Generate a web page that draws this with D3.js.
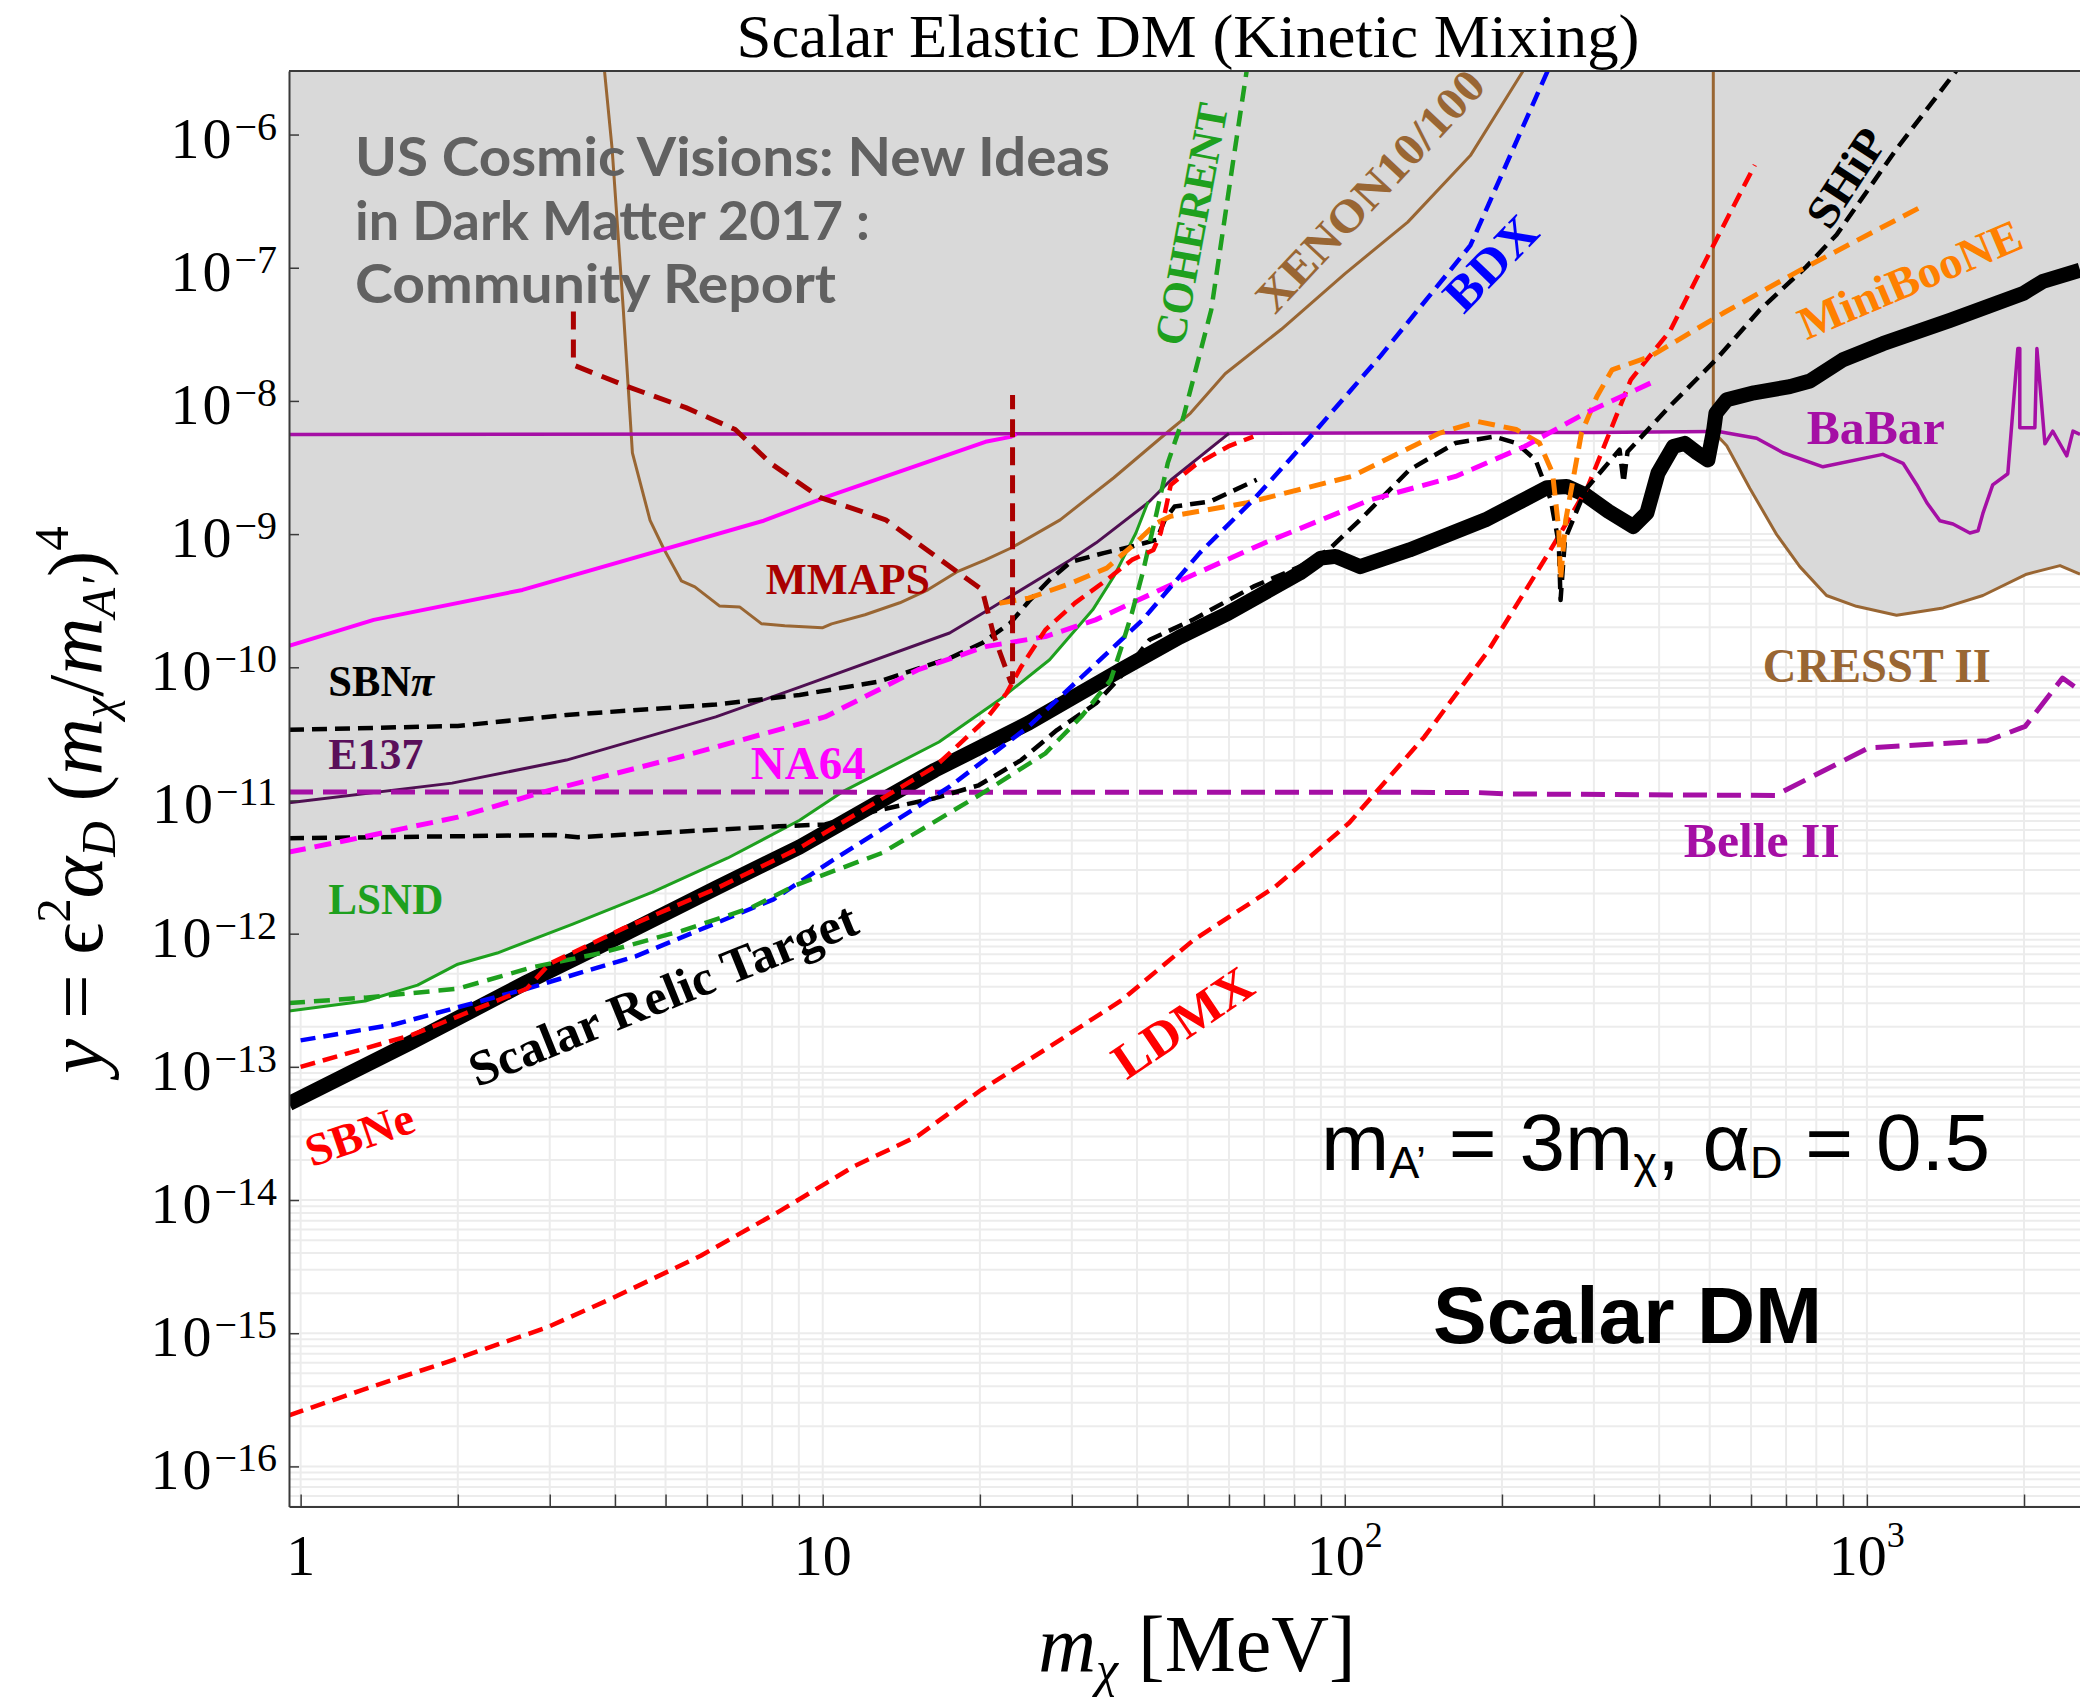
<!DOCTYPE html>
<html>
<head>
<meta charset="utf-8">
<script src="https://cdn.jsdelivr.net/npm/d3@7"></script>
<style>
body { margin: 0; background: #fff; }
svg { display: block; }
</style>
</head>
<body>
<script>
"use strict";

// Axis ticks

let xTicks = [1, 10, 100, 1000];
let xTickBase = ["1", "10", "10", "10"];
let xTickExp = ["", "", "2", "3"];
let yExponents = [-6, -7, -8, -9, -10, -11, -12, -13, -14, -15, -16];

// Curves, [m_chi in MeV, y]

let relicTarget = [[0.95,5.3e-14],[1.63,1.53e-13],[2.71,4.32e-13],[3.96,8.95e-13],[6.25,2.2e-12],[9.03,4.48e-12],[16.4,1.69e-11],[24.8,3.82e-11],[37.2,9.55e-11],[48.3,1.69e-10],[59.8,2.55e-10],[82,5.1e-10],[90,6.6e-10],[96,6.8e-10],[107,5.7e-10],[133,7.6e-10],[186,1.28e-9],[244,2.23e-9],[266,2.28e-9],[289,1.97e-9],[320,1.48e-9],[357,1.14e-9],[379,1.44e-9],[398,2.87e-9],[426,4.55e-9],[448,4.8e-9],[472,4.1e-9],[496,3.6e-9],[509,6.1e-9],[514,8.1e-9],[539,1.02e-8],[608,1.15e-8],[712,1.28e-8],[778,1.41e-8],[900,2.04e-8],[1073,2.69e-8],[1443,4.03e-8],[1991,6.4e-8],[2174,7.9e-8],[2560,9.6e-8]];

let lsnd = [[0.95,2.62e-13],[1.33,3.12e-13],[1.675,4.11e-13],[2.0,5.9e-13],[2.38,7.15e-13],[3.32,1.18e-12],[4.72,2.05e-12],[6.58,3.7e-12],[9.03,7.1e-12],[10.9,1.16e-11],[16.7,2.75e-11],[21.8,5.7e-11],[27.2,1.14e-10],[32.9,2.7e-10],[36.1,4.8e-10],[39.8,1.02e-9],[42,1.75e-9]];

let e137 = [[0.95,9.6e-12],[1.95,1.35e-11],[3.23,2.01e-11],[6.24,4.24e-11],[9.03,7.1e-11],[17.5,1.81e-10],[21.2,2.84e-10],[29.8,6.4e-10],[33.4,8.6e-10],[42,1.72e-9],[46.5,2.56e-9],[60,5.7e-9]];

let babar = [[0.95,5.6e-9],[60,5.7e-9],[300,5.8e-9],[508,5.9e-9],[520,5.9e-9],[615,5.24e-9],[691,4.08e-9],[824,3.2e-9],[1073,3.97e-9],[1173,3.4e-9],[1247,2.34e-9],[1303,1.72e-9],[1380,1.26e-9],[1462,1.19e-9],[1575,1.02e-9],[1633,1.06e-9],[1668,1.43e-9],[1742,2.34e-9],[1862,2.84e-9],[1946,2.47e-8],[1963,2.47e-8],[1963,6.3e-9],[2098,6.3e-9],[2117,2.47e-8],[2193,4.76e-9],[2270,5.93e-9],[2415,3.87e-9],[2482,5.93e-9],[2560,5.6e-9]];

let cresst = [[508,3e-6],[508,5.9e-9],[539,4.6e-9],[597,2.2e-9],[672,9.9e-10],[744,5.7e-10],[837,3.46e-10],[955,2.87e-10],[1140,2.46e-10],[1400,2.79e-10],[1668,3.46e-10],[2023,5.0e-10],[2344,5.8e-10],[2560,5.0e-10]];

let xenon = [[3.82,3e-6],[3.95,7.85e-7],[4.15,4.84e-8],[4.32,4.08e-9],[4.67,1.27e-9],[4.96,7.76e-10],[5.36,4.46e-10],[5.69,4.02e-10],[6.34,2.89e-10],[6.93,2.84e-10],[7.64,2.12e-10],[8.46,2.05e-10],[9.98,1.98e-10],[10.4,2.12e-10],[12.05,2.48e-10],[14.05,3.05e-10],[15.9,3.82e-10],[18.06,5.2e-10],[20.5,6.4e-10],[23.0,7.9e-10],[28.5,1.28e-9],[36.1,2.65e-9],[46.1,5.97e-9],[50.6,8.07e-9],[59.0,1.6e-8],[75.6,3.45e-8],[100,9.0e-8],[132,2.2e-7],[174,6.95e-7],[220,3.04e-6]];

let na64 = [[0.95,1.45e-10],[1.38,2.27e-10],[2.66,3.81e-10],[7.71,1.26e-9],[10.3,1.94e-9],[20.5,4.93e-9],[22.9,5.37e-9],[23.5,5.65e-9]];

let mmaps = [[3.33,4.7e-8],[3.33,1.86e-8],[4.23,1.28e-8],[5.47,8.9e-9],[6.8,6.1e-9],[7.95,3.4e-9],[9.87,1.89e-9],[13.2,1.28e-9],[18.1,5.2e-10],[20.2,3.82e-10],[21.3,1.7e-10],[22.9,7.8e-11],[23.1,7.8e-11],[23.1,1.11e-8]];

let sbnPi = [[0.95,3.39e-11],[2.0,3.63e-11],[3.23,4.39e-11],[6.24,5.25e-11],[9.03,6.2e-11],[12.8,7.8e-11],[17.5,1.17e-10],[20.2,1.52e-10],[22.9,2.16e-10],[24.8,3.12e-10],[27.2,4.54e-10],[29.9,6.2e-10],[34.5,7.2e-10],[39.1,8.07e-10],[43.6,9.06e-10],[45.2,1.28e-9],[47.2,1.61e-9],[55.3,1.76e-9],[67.8,2.56e-9]];

let ship = [[0.95,5.2e-12],[3.07,5.5e-12],[3.4,5.3e-12],[8.25,6.4e-12],[10.1,6.6e-12],[12.7,8.4e-12],[16.4,1.04e-11],[19.9,1.3e-11],[24.0,2.01e-11],[28.1,3.38e-11],[33.4,5.37e-11],[37.2,8.5e-11],[42.3,1.61e-10],[51.1,2.27e-10],[66.8,4.03e-10],[82,5.7e-10],[93,7.6e-10],[107,1.28e-9],[133,3.04e-9],[163,4.83e-9],[193,5.4e-9],[213,4.83e-9],[232,3.6e-9],[248,1.81e-9],[257,8.5e-10],[259,3.2e-10],[264,9.1e-10],[289,2.15e-9],[336,4.3e-9],[342,2.43e-9],[348,4.15e-9],[419,9.1e-9],[514,2.04e-8],[624,4.84e-8],[766,1.02e-7],[875,1.77e-7],[1140,7.8e-7],[1486,3.04e-6]];

let miniBooNE = [[21.8,3.03e-10],[24.8,3.3e-10],[29.9,4.28e-10],[35.0,5.55e-10],[39.7,8.55e-10],[43.6,1.21e-9],[46.4,1.36e-9],[64.6,1.71e-9],[103,2.71e-9],[152,5.74e-9],[180,7.0e-9],[213,6.1e-9],[236,4.83e-9],[250,2.87e-9],[257,1.08e-9],[259,4.54e-10],[265,1.28e-9],[284,5.74e-9],[304,1.08e-8],[325,1.71e-8],[385,2.16e-8],[531,4.57e-8],[744,9.55e-8],[1280,2.91e-7]];

let na64Proj = [[0.95,4.1e-12],[1.236,5.05e-12],[2.0,7.5e-12],[2.92,1.16e-11],[5.37,2.14e-11],[10.1,4.24e-11],[15.2,9.55e-11],[20.5,1.43e-10],[26.7,1.7e-10],[33.3,2.27e-10],[47.2,4.28e-10],[70,8.55e-10],[112,1.81e-9],[163,2.71e-9],[221,4.55e-9],[289,8.1e-9],[385,1.36e-8]];

let bdx = [[1.0,1.58e-13],[1.51,2.08e-13],[2.71,3.86e-13],[4.38,6.75e-13],[8.05,1.81e-12],[10.25,3.39e-12],[17.5,1.27e-11],[24.8,3.59e-11],[41.0,2.27e-10],[52.7,7.2e-10],[66.8,1.81e-9],[87.2,5.74e-9],[117,2.17e-8],[174,1.47e-7],[245,3.04e-6]];

let coherent = [[0.95,3.01e-13],[1.33,3.31e-13],[2.0,3.86e-13],[2.78,5.6e-13],[3.76,7.15e-13],[5.37,1.05e-12],[7.27,1.56e-12],[8.9,2.32e-12],[13.0,4.04e-12],[20.2,1.13e-11],[26.7,2.26e-11],[31.3,4.27e-11],[35.6,8.0e-11],[37.2,1.35e-10],[39.1,2.55e-10],[41.0,5.1e-10],[43.6,1.44e-9],[45.8,3.41e-9],[49.1,7.6e-9],[55.5,4.84e-8],[60.9,5.75e-7],[64.9,3.04e-6]];

let sbne = [[1.0,1.0e-13],[1.63,1.73e-13],[2.71,3.86e-13],[3.0,5.95e-13],[4.16,1.1e-12],[6.25,2.18e-12],[9.03,4.4e-12],[16.4,1.79e-11],[20.5,4.03e-11],[22.5,6.4e-11],[24.0,1.01e-10],[26.7,1.91e-10],[30.4,3.03e-10],[35.0,4.54e-10],[39.1,6.4e-10],[43.0,7.6e-10],[44.4,1.02e-9],[46.4,2.34e-9],[51.8,3.32e-9],[59.8,4.55e-9],[66.8,5.4e-9]];

let ldmx = [[0.95,2.42e-16],[1.31,3.74e-16],[1.95,6.26e-16],[2.97,1.11e-15],[3.94,1.82e-15],[5.84,3.82e-15],[8.18,8.05e-15],[11.5,1.8e-14],[15.2,3.02e-14],[20.1,6.7e-14],[26.6,1.34e-13],[37.4,3.17e-13],[51.3,8.95e-13],[73.5,2.24e-12],[102,6.8e-12],[142,3.0e-11],[188,1.32e-10],[247,7.45e-10],[292,2.26e-9],[353,1.44e-8],[420,3.37e-8],[508,1.47e-7],[610,5.9e-7]];

let belle2 = [[0.95,1.16e-11],[177,1.15e-11],[203,1.12e-11],[667,1.09e-11],[1007,2.48e-11],[1702,2.81e-11],[2010,3.6e-11],[2370,8.3e-11],[2560,6.7e-11]];

// Layout

let svgWidth = 2080;
let svgHeight = 1701;
let plotLeft = 289, plotRight = 2080, plotTop = 71, plotBottom = 1506.5;

let serif = "'Liberation Serif', 'Times New Roman', serif";
let sans = "'Liberation Sans', Arial, sans-serif";
let frameColor = "#3a3a3a";
let brown = "#996633";
let purple = "#a50fa5";
let green = "#1ea01e";
let red = "#ff0000";
let orange = "#ff8000";
let magenta = "#ff00ff";

let xScale = d3.scaleLog()
    .domain([0.95, 2560])
    .range([plotLeft, plotRight]);

let yScale = d3.scaleLog()
    .domain([5e-17, 3e-6])
    .range([plotBottom, plotTop]);

let svg = d3.select("body")
    .append("svg")
    .attr("width", svgWidth)
    .attr("height", svgHeight);

svg.append("defs")
    .append("clipPath")
    .attr("id", "plotClip")
    .append("rect")
    .attr("x", plotLeft)
    .attr("y", plotTop)
    .attr("width", plotRight - plotLeft)
    .attr("height", plotBottom - plotTop);

let plot = svg.append("g")
    .attr("clip-path", "url(#plotClip)");

// Grid

let xGridTicks = [];
for (let e = 0; e <= 3; e++) {
    for (let k = 1; k <= 9; k++) {
        let v = k * Math.pow(10, e);
        if (v <= 2560) xGridTicks.push(v);
    }
}
let yGridTicks = [];
for (let e = -17; e <= -6; e++) {
    for (let k = 1; k <= 9; k++) {
        let v = k * Math.pow(10, e);
        if (v >= 5e-17 && v <= 3e-6) yGridTicks.push(v);
    }
}

plot.selectAll(".gx")
    .data(xGridTicks)
    .enter()
    .append("line")
    .attr("x1", d => xScale(d))
    .attr("x2", d => xScale(d))
    .attr("y1", plotTop)
    .attr("y2", plotBottom)
    .attr("stroke", "#ececec")
    .attr("stroke-width", 2);

plot.selectAll(".gy")
    .data(yGridTicks)
    .enter()
    .append("line")
    .attr("x1", plotLeft)
    .attr("x2", plotRight)
    .attr("y1", d => yScale(d))
    .attr("y2", d => yScale(d))
    .attr("stroke", "#ececec")
    .attr("stroke-width", 2);

// Excluded region: lower envelope of the existing limits

let lsndEnd = lsnd[lsnd.length - 1][0];
let shadeEdge = [].concat(
    lsnd,
    e137.filter(d => d[0] > lsndEnd),
    babar.filter(d => d[0] > 60 && d[0] <= 508),
    cresst.filter(d => d[0] > 508),
    [[2560, 3e-6], [0.95, 3e-6]]
);

let line = d3.line()
    .x(d => xScale(d[0]))
    .y(d => yScale(d[1]));

plot.append("path")
    .attr("d", line(shadeEdge) + "Z")
    .attr("fill", "#d9d9d9");

// Curves

let curves = [
    {data: xenon, color: brown, width: 3},
    {data: cresst, color: brown, width: 3},
    {data: babar, color: purple, width: 3.5},
    {data: e137, color: "#4f0f52", width: 3},
    {data: lsnd, color: green, width: 3},
    {data: na64, color: magenta, width: 4},
    {data: relicTarget, color: "#000", width: 15},
    {data: belle2, color: purple, width: 5, dash: "24,10"},
    {data: ldmx, color: red, width: 4.5, dash: "15,8"},
    {data: sbnPi, color: "#000", width: 4.5, dash: "15,8"},
    {data: ship, color: "#000", width: 4.5, dash: "15,8"},
    {data: miniBooNE, color: orange, width: 5, dash: "17,9"},
    {data: na64Proj, color: magenta, width: 5, dash: "17,9"},
    {data: bdx, color: "#0000ff", width: 4.5, dash: "15,8"},
    {data: coherent, color: green, width: 4.5, dash: "16,9"},
    {data: sbne, color: red, width: 4.5, dash: "15,8"},
    {data: mmaps, color: "#aa0000", width: 5, dash: "18,10"}
];

curves.forEach(c => {
    plot.append("path")
        .attr("d", line(c.data))
        .attr("fill", "none")
        .attr("stroke", c.color)
        .attr("stroke-width", c.width)
        .attr("stroke-linejoin", "round")
        .attr("stroke-dasharray", c.dash || null);
});

// Curve labels

let curveLabels = [
    {text: "SBN", tail: "\u03c0", x: 1.13, y: 6.1e-11, angle: 0, color: "#000", size: 44, width: 106},
    {text: "E137", x: 1.13, y: 1.73e-11, angle: 0, color: "#5a0f5a", size: 44, width: 95},
    {text: "NA64", x: 7.28, y: 1.45e-11, angle: 0, color: magenta, size: 46, width: 115},
    {text: "LSND", x: 1.13, y: 1.4e-12, angle: 0, color: green, size: 44, width: 115},
    {text: "MMAPS", x: 7.78, y: 3.56e-10, angle: 0, color: "#aa0000", size: 44, width: 164},
    {text: "Scalar Relic Target", x: 2.18, y: 7.0e-14, angle: -22, color: "#000", size: 50, width: 414},
    {text: "SBNe", x: 1.05, y: 1.76e-14, angle: -19, color: red, size: 46, width: 112},
    {text: "LDMX", x: 38.2, y: 7.9e-14, angle: -34, color: red, size: 50, width: 158},
    {text: "COHERENT", x: 49.1, y: 2.53e-8, angle: -79.5, color: green, size: 44, width: 245},
    {text: "XENON10/100", x: 73.5, y: 4.37e-8, angle: -47, color: brown, size: 46, width: 312},
    {text: "BDX", x: 169, y: 4.4e-8, angle: -46, color: "#0000ff", size: 50, width: 112},
    {text: "SHiP", x: 849, y: 1.87e-7, angle: -57, color: "#000", size: 46, width: 108},
    {text: "MiniBooNE", x: 766, y: 2.86e-8, angle: -23, color: orange, size: 46, width: 238},
    {text: "BaBar", x: 767, y: 4.76e-9, angle: 0, color: purple, size: 48, width: 138},
    {text: "CRESST II", x: 632, y: 7.76e-11, angle: 0, color: brown, size: 48, width: 228},
    {text: "Belle II", x: 446, y: 3.77e-12, angle: 0, color: purple, size: 48, width: 156}
];

let labelLayer = svg.append("g")
    .attr("clip-path", "url(#plotClip)");

curveLabels.forEach(l => {
    let t = labelLayer.append("text")
        .attr("transform", `translate(${xScale(l.x)},${yScale(l.y)}) rotate(${l.angle})`)
        .attr("fill", l.color)
        .attr("textLength", l.width)
        .attr("lengthAdjust", "spacingAndGlyphs")
        .style("font-family", serif)
        .style("font-weight", "bold")
        .style("font-size", l.size + "px");
    t.append("tspan").text(l.text);
    if (l.tail) {
        t.append("tspan").style("font-style", "italic").text(l.tail);
    }
});

// Axes

let yAxis = d3.axisLeft(yScale)
    .tickValues(yExponents.map(e => Math.pow(10, e)))
    .tickSizeInner(-10)
    .tickSizeOuter(0)
    .tickFormat("");

let gy = svg.append("g")
    .attr("transform", `translate(${plotLeft},0)`)
    .call(yAxis);

let xAxis = d3.axisBottom(xScale)
    .tickValues(xGridTicks)
    .tickSizeInner(-12)
    .tickSizeOuter(0)
    .tickFormat("");

let gx = svg.append("g")
    .attr("transform", `translate(0,${plotBottom})`)
    .call(xAxis);

[gx, gy].forEach(g => {
    g.select(".domain")
        .attr("stroke", frameColor)
        .attr("stroke-width", 2);
    g.selectAll(".tick line")
        .attr("stroke", frameColor)
        .attr("stroke-width", 1.5);
});

svg.append("line")
    .attr("x1", plotLeft)
    .attr("x2", plotRight)
    .attr("y1", plotTop)
    .attr("y2", plotTop)
    .attr("stroke", frameColor)
    .attr("stroke-width", 2);

yExponents.forEach(e => {
    let ty = yScale(Math.pow(10, e));
    let t = svg.append("text")
        .attr("x", plotLeft - 12)
        .attr("y", ty + 23)
        .attr("text-anchor", "end")
        .style("font-family", serif)
        .style("font-size", "58px");
    t.append("tspan").attr("letter-spacing", "3px").text("10");
    t.append("tspan")
        .attr("dy", -18)
        .style("font-size", "40px")
        .text("\u2212" + Math.abs(e));
});

xTicks.forEach((v, i) => {
    let t = svg.append("text")
        .attr("x", xScale(v))
        .attr("y", 1575)
        .attr("text-anchor", "middle")
        .style("font-family", serif)
        .style("font-size", "58px");
    t.append("tspan").text(xTickBase[i]);
    if (xTickExp[i]) {
        t.append("tspan")
            .attr("dy", -28)
            .style("font-size", "36px")
            .text(xTickExp[i]);
    }
});

// Texts

function addParts(sel, parts) {
    parts.forEach(p => {
        let ts = sel.append("tspan").text(p.t);
        if (p.i) ts.style("font-style", "italic");
        if (p.s) ts.style("font-size", p.s + "px");
        if (p.dy) ts.attr("dy", p.dy);
    });
}

svg.append("text")
    .attr("x", 1188)
    .attr("y", 57)
    .attr("text-anchor", "middle")
    .attr("textLength", 903)
    .attr("lengthAdjust", "spacingAndGlyphs")
    .style("font-family", serif)
    .style("font-size", "62px")
    .text("Scalar Elastic DM (Kinetic Mixing)");

let xLabel = svg.append("text")
    .attr("x", 1197)
    .attr("y", 1671)
    .attr("text-anchor", "middle")
    .style("font-family", serif)
    .style("font-size", "80px");
addParts(xLabel, [
    {t: "m", i: 1},
    {t: "\u03c7", i: 1, s: 50, dy: 15},
    {t: " [MeV]", dy: -15}
]);

let yLabel = svg.append("text")
    .attr("transform", "translate(102,800) rotate(-90)")
    .attr("text-anchor", "middle")
    .style("font-family", serif)
    .style("font-size", "79px");
addParts(yLabel, [
    {t: "y", i: 1},
    {t: " = "},
    {t: "\u03f5"},
    {t: "2", s: 49, dy: -32},
    {t: "\u03b1", i: 1, dy: 32},
    {t: "D", i: 1, s: 49, dy: 13},
    {t: " (", dy: -13},
    {t: "m", i: 1},
    {t: "\u03c7", i: 1, s: 49, dy: 13},
    {t: "/", dy: -13},
    {t: "m", i: 1},
    {t: "A\u2032", i: 1, s: 49, dy: 13},
    {t: ")", dy: -13},
    {t: "4", s: 49, dy: -34}
]);

let noteLines = ["US Cosmic Visions: New Ideas", "in Dark Matter 2017 :", "Community Report"];
let noteWidths = [755, 515, 481];
noteLines.forEach((s, i) => {
    svg.append("text")
        .attr("x", 355)
        .attr("y", 176 + i * 63.5)
        .attr("textLength", noteWidths[i])
        .attr("lengthAdjust", "spacingAndGlyphs")
        .attr("fill", "#616161")
        .style("font-family", "Lato, 'Open Sans', sans-serif")
        .style("font-weight", "bold")
        .style("font-size", "54px")
        .text(s);
});

let params = svg.append("text")
    .attr("x", 1321)
    .attr("y", 1170)
    .attr("textLength", 669)
    .attr("lengthAdjust", "spacingAndGlyphs")
    .style("font-family", sans)
    .style("font-size", "80px");
addParts(params, [
    {t: "m"},
    {t: "A\u2019", s: 44, dy: 8},
    {t: " = 3m", dy: -8},
    {t: "\u03c7", s: 44, dy: 8},
    {t: ", \u03b1", dy: -8},
    {t: "D", s: 44, dy: 8},
    {t: " = 0.5", dy: -8}
]);

svg.append("text")
    .attr("x", 1433)
    .attr("y", 1343)
    .attr("textLength", 389)
    .attr("lengthAdjust", "spacingAndGlyphs")
    .style("font-family", sans)
    .style("font-weight", "bold")
    .style("font-size", "80px")
    .text("Scalar DM");
</script>
</body>
</html>
